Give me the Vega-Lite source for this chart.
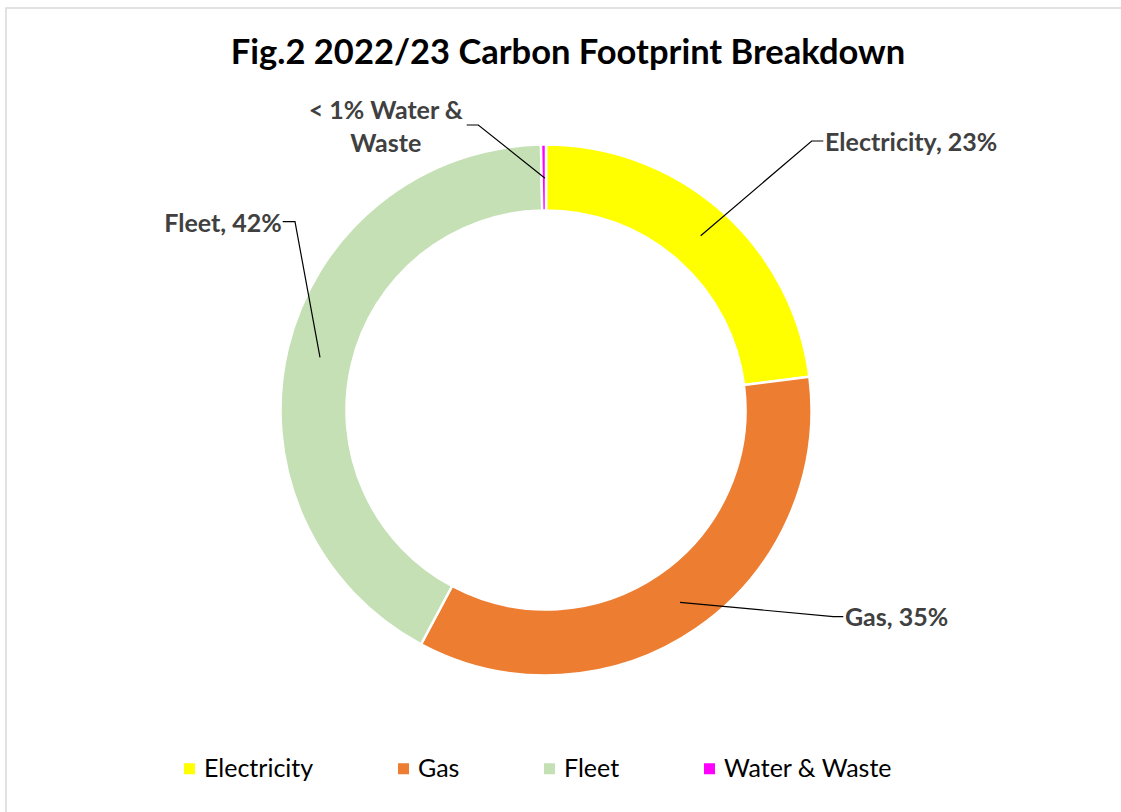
{
  "$schema": "https://vega.github.io/schema/vega-lite/v6.json",
  "width": 1080,
  "height": 804,
  "autosize": {"type": "none"},
  "padding": {"left": 6, "top": 8, "right": 35, "bottom": 0},
  "background": "white",
  "title": {
    "text": "Fig.2 2022/23 Carbon Footprint Breakdown",
    "font": "Lato",
    "fontSize": 34.5,
    "fontWeight": "bold",
    "color": "#000000",
    "anchor": "middle",
    "offset": -64,
    "dx": 22
  },
  "datasets": {
    "slices": [
      {"category": "Electricity", "share": 23.0, "rank": 1},
      {"category": "Gas", "share": 34.8, "rank": 2},
      {"category": "Fleet", "share": 41.9, "rank": 3},
      {"category": "Water & Waste", "share": 0.3, "rank": 4}
    ],
    "leaders": [
      {"category": "Electricity", "step": 1, "x": 154.7, "y": 175.3},
      {"category": "Electricity", "step": 2, "x": 265.7, "y": 270},
      {"category": "Electricity", "step": 3, "x": 277.3, "y": 270},
      {"category": "Gas", "step": 1, "x": 134, "y": -191.3},
      {"category": "Gas", "step": 2, "x": 287.3, "y": -205.7},
      {"category": "Gas", "step": 3, "x": 297.3, "y": -205.7},
      {"category": "Fleet", "step": 1, "x": -226, "y": 53.7},
      {"category": "Fleet", "step": 2, "x": -251, "y": 189.3},
      {"category": "Fleet", "step": 3, "x": -263.3, "y": 189.3},
      {"category": "Water & Waste", "step": 1, "x": -1, "y": 232.7},
      {"category": "Water & Waste", "step": 2, "x": -67.7, "y": 286},
      {"category": "Water & Waste", "step": 3, "x": -79.3, "y": 286}
    ],
    "labels": [
      {"category": "Electricity", "label": "Electricity, 23%", "x": 279, "y": 260},
      {"category": "Gas", "label": "Gas, 35%", "x": 299, "y": -215},
      {"category": "Fleet", "label": "Fleet, 42%", "x": -264.3, "y": 178.7},
      {"category": "Water & Waste", "label": "< 1% Water &\nWaste", "x": -160.2, "y": 291.7}
    ]
  },
  "layer": [
    {
      "data": {"values": [{}]},
      "mark": {"type": "rect", "fill": null, "stroke": "#d9d9d9", "strokeWidth": 1.5},
      "encoding": {
        "x": {"datum": -540, "type": "quantitative", "scale": {"domain": [-540, 540], "nice": false, "zero": false}, "axis": null},
        "x2": {"datum": 700},
        "y": {"datum": 403, "type": "quantitative", "scale": {"domain": [-401, 403], "nice": false, "zero": false}, "axis": null},
        "y2": {"datum": -500}
      }
    },
    {
      "data": {"name": "slices"},
      "mark": {"type": "arc", "radius": 265.5, "radius2": 199.5, "stroke": "white", "strokeWidth": 2.5},
      "encoding": {
        "theta": {"field": "share", "type": "quantitative", "stack": true},
        "order": {"field": "rank", "type": "quantitative"},
        "color": {
          "field": "category",
          "type": "nominal",
          "scale": {
            "domain": ["Electricity", "Gas", "Fleet", "Water & Waste"],
            "range": ["#FFFF00", "#ED7D31", "#C5E0B4", "#FF00FF"]
          },
          "legend": {
            "orient": "none",
            "legendX": 171,
            "legendY": 748,
            "direction": "horizontal",
            "columns": 4,
            "columnPadding": 77,
            "title": null,
            "symbolType": "square",
            "symbolSize": 121,
            "symbolStrokeWidth": 0,
            "labelFont": "Lato",
            "labelFontSize": 25,
            "labelColor": "#000000",
            "labelOffset": 2,
            "labelLimit": 400
          }
        }
      }
    },
    {
      "data": {"name": "leaders"},
      "mark": {"type": "line", "color": "#000000", "strokeWidth": 1.2},
      "encoding": {
        "x": {"field": "x", "type": "quantitative", "scale": {"domain": [-540, 540], "nice": false, "zero": false}, "axis": null},
        "y": {"field": "y", "type": "quantitative", "scale": {"domain": [-401, 403], "nice": false, "zero": false}, "axis": null},
        "detail": {"field": "category", "type": "nominal"},
        "order": {"field": "step", "type": "quantitative"}
      }
    },
    {
      "data": {"name": "labels"},
      "transform": [{"filter": {"field": "category", "oneOf": ["Electricity", "Gas"]}}],
      "mark": {"type": "text", "align": "left", "baseline": "alphabetic", "font": "Lato", "fontSize": 25, "fontWeight": "bold", "color": "#404040"},
      "encoding": {
        "x": {"field": "x", "type": "quantitative", "scale": {"domain": [-540, 540], "nice": false, "zero": false}, "axis": null},
        "y": {"field": "y", "type": "quantitative", "scale": {"domain": [-401, 403], "nice": false, "zero": false}, "axis": null},
        "text": {"field": "label", "type": "nominal"}
      }
    },
    {
      "data": {"name": "labels"},
      "transform": [{"filter": {"field": "category", "equal": "Fleet"}}],
      "mark": {"type": "text", "align": "right", "baseline": "alphabetic", "font": "Lato", "fontSize": 25, "fontWeight": "bold", "color": "#404040"},
      "encoding": {
        "x": {"field": "x", "type": "quantitative", "scale": {"domain": [-540, 540], "nice": false, "zero": false}, "axis": null},
        "y": {"field": "y", "type": "quantitative", "scale": {"domain": [-401, 403], "nice": false, "zero": false}, "axis": null},
        "text": {"field": "label", "type": "nominal"}
      }
    },
    {
      "data": {"name": "labels"},
      "transform": [{"filter": {"field": "category", "equal": "Water & Waste"}}],
      "mark": {"type": "text", "align": "center", "baseline": "alphabetic", "lineBreak": "\n", "lineHeight": 32.4, "font": "Lato", "fontSize": 25, "fontWeight": "bold", "color": "#404040"},
      "encoding": {
        "x": {"field": "x", "type": "quantitative", "scale": {"domain": [-540, 540], "nice": false, "zero": false}, "axis": null},
        "y": {"field": "y", "type": "quantitative", "scale": {"domain": [-401, 403], "nice": false, "zero": false}, "axis": null},
        "text": {"field": "label", "type": "nominal"}
      }
    }
  ],
  "config": {
    "view": {"stroke": null}
  }
}
